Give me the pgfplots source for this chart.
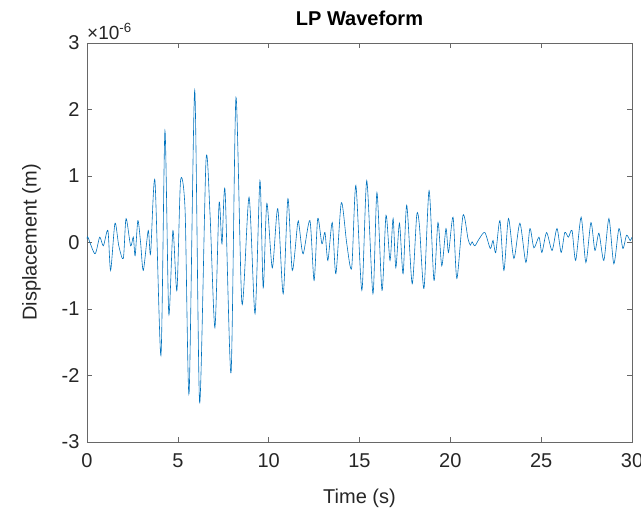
\documentclass[border=0pt]{standalone}
\usepackage{fontspec}
\setmainfont{Liberation Sans}
\usepackage{pgfplots}
\pgfplotsset{compat=1.18}
\definecolor{mblue}{rgb}{0,0.447,0.741}
\definecolor{axgray}{rgb}{0.15,0.15,0.15}
\begin{document}
\begin{tikzpicture}
\begin{axis}[
  name=ax,
  scale only axis,
  width=545bp, height=399bp,
  xmin=0, xmax=30, ymin=-3, ymax=3,
  xtick={0,5,...,30}, ytick={-3,-2,...,3},
  tick align=inside,
  major tick length=5bp,
  axis line style={draw=axgray!70, line width=0.6bp},
  tick style={draw=axgray!70, line width=0.6bp},
  every tick label/.append style={font=\fontsize{20bp}{22bp}\selectfont, text=axgray},
  /pgf/number format/assume math mode=true,
  xticklabel style={yshift=-8bp},
  yticklabel style={xshift=-4bp},
  xlabel={Time (s)},
  ylabel={Displacement (m)},
  label style={font=\fontsize{20bp}{24bp}\selectfont, text=axgray},
  xlabel style={yshift=-14bp},
  ylabel style={yshift=14bp},
  title={\textbf{LP Waveform}},
  title style={font=\fontsize{20bp}{24bp}\selectfont, yshift=8bp},
]
\addplot[mblue, line width=0.6bp, smooth, tension=0.45] coordinates {
(0.00,0.05)(0.05,0.08)(0.44,-0.17)(0.7,0.08)(0.9,-0.05)(1.15,0.18)(1.3,-0.42)
(1.54,0.29)(1.75,-0.05)(2.0,-0.24)(2.15,0.36)(2.4,-0.05)(2.55,0.08)(2.65,-0.2)
(2.8,0.33)(2.95,0.0)(3.1,-0.42)(3.37,0.18)(3.5,-0.17)(3.74,0.93)(4.07,-1.70)
(4.29,1.68)(4.5,-1.07)(4.73,0.18)(4.95,-0.72)(5.15,0.93)(5.4,0.48)(5.62,-2.27)
(5.93,2.29)(6.2,-2.41)(6.55,1.23)(6.77,0.44)(7.04,-1.28)(7.27,0.59)(7.43,-0.02)
(7.6,0.78)(7.93,-1.96)(8.2,2.18)(8.53,-0.92)(8.92,0.68)(9.25,-1.07)(9.52,0.93)
(9.7,-0.68)(9.9,0.59)(10.2,-0.38)(10.5,0.51)(10.8,-0.77)(11.06,0.66)(11.3,-0.42)
(11.6,0.30)(11.7,0.2)(11.9,-0.17)(12.27,0.33)(12.5,-0.57)(12.7,0.36)(12.93,-0.02)
(13.1,0.15)(13.26,-0.27)(13.5,0.30)(13.7,-0.47)(14.0,0.60)(14.3,-0.02)(14.57,-0.38)
(14.8,0.86)(15.13,-0.72)(15.4,0.93)(15.74,-0.77)(15.96,0.75)(16.24,-0.72)(16.46,0.41)
(16.68,-0.27)(16.85,0.36)(17.0,-0.38)(17.2,0.29)(17.4,-0.47)(17.6,0.56)(17.9,-0.62)
(18.15,0.41)(18.3,0.25)(18.55,-0.69)(18.83,0.78)(19.1,-0.57)(19.32,0.30)(19.53,-0.35)
(19.76,0.21)(19.9,-0.15)(20.15,0.38)(20.36,-0.54)(20.7,0.41)(20.97,0.06)(21.1,-0.04)
(21.2,0.01)(21.35,-0.05)(21.6,0.06)(21.9,0.15)(22.2,-0.09)(22.35,0.03)(22.5,-0.15)
(22.73,0.33)(22.95,-0.42)(23.2,0.36)(23.5,-0.24)(23.83,0.29)(24.16,-0.30)(24.38,0.21)
(24.6,-0.08)(24.88,0.08)(25.04,-0.15)(25.3,0.15)(25.6,-0.12)(25.87,0.21)(26.1,-0.15)
(26.3,0.15)(26.5,0.08)(26.7,0.18)(26.9,-0.27)(27.2,0.38)(27.46,-0.30)(27.74,0.30)
(27.96,-0.12)(28.18,0.14)(28.45,-0.27)(28.73,0.36)(29.0,-0.32)(29.28,0.21)(29.5,-0.09)
(29.7,0.11)(29.9,0.03)(30.0,0.08)
};
\end{axis}
\node[anchor=south west, inner sep=0pt, text=axgray, font=\fontsize{19bp}{22bp}\selectfont]
  at ([yshift=3bp]ax.north west) {×10\textsuperscript{-6}};
\pgfresetboundingbox
\path[use as bounding box] (-87bp,-70bp) rectangle (554bp,442bp);
\end{tikzpicture}
\end{document}
